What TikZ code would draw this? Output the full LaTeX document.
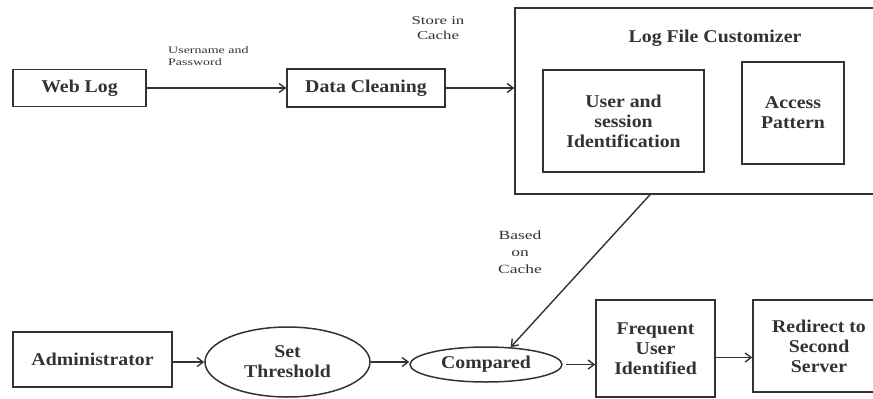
\documentclass[tikz,border=0pt]{standalone}
\usepackage{fontspec}
\setmainfont{Liberation Serif}
\newfontfamily\bigfont{Liberation Serif}[FakeStretch=1.1]
\newfontfamily\lblfont{Liberation Serif}[FakeStretch=1.4]
\usetikzlibrary{shapes.geometric,arrows.meta}
\definecolor{ink}{HTML}{333333}
\tikzset{
  box/.style={draw=ink, line width=1.5pt, rectangle, inner sep=0pt, align=center,
    text=ink, font=\bigfont\bfseries\fontsize{18}{20}\selectfont},
  oval/.style={box, ellipse},
  lbl/.style={text=ink, inner sep=0pt, align=center},
  conn/.style={draw=ink, line width=1.4pt, -{Straight Barb[length=6pt,width=9pt,line width=1.4pt]}},
}
\begin{document}
\begin{tikzpicture}[x=1pt,y=-1pt]
\useasboundingbox (0,0) rectangle (873,399);
% top row
\node[box, minimum width=133pt, minimum height=37pt] (web) at (79.5,88) {Web Log};
\node[box, minimum width=158pt, minimum height=38pt] (clean) at (366,88) {Data Cleaning};
\node[box, minimum width=370pt, minimum height=186pt] (lfc) at (700,101) {};
\node[lbl, font=\bigfont\bfseries\fontsize{18}{20}\selectfont] (lfct) at (715,38) {Log File Customizer};
\node[box, minimum width=161pt, minimum height=102pt] (usi) at (623.5,121) {User and\\session\\Identification};
\node[box, minimum width=102pt, minimum height=102pt] (ap) at (793,113) {Access\\Pattern};
% bottom row
\node[box, minimum width=159pt, minimum height=55pt] (admin) at (92.5,359.5) {Administrator};
\node[oval, minimum width=165pt, minimum height=70pt] (thr) at (287.5,362) {Set\\Threshold};
\node[oval, minimum width=152pt, minimum height=35pt] (cmp) at (486,364.5) {Compared};
\node[box, minimum width=119pt, minimum height=97pt] (fui) at (655.5,348.5) {Frequent\\User\\Identified};
\node[box, minimum width=132pt, minimum height=92pt] (red) at (819,346) {Redirect to\\Second\\Server};
% labels
\node[lbl, anchor=north west, align=left, font=\lblfont\fontsize{10}{12}\selectfont] (l1) at (168,46) {Username and\\Password};
\node[lbl, font=\lblfont\fontsize{12}{15}\selectfont] (l2) at (438,28) {Store in\\Cache};
\node[lbl, font=\lblfont\fontsize{12.5}{17}\selectfont] (l3) at (520,252) {Based\\on\\Cache};
% connectors
\draw[conn] (web.east) -- (clean.west);
\draw[conn] (clean.east) -- (clean.east -| lfc.west);
\draw[conn] ([xshift=-50pt]lfc.south) -- (cmp.35);
\draw[conn] (thr.west -| admin.east) -- (thr.west);
\draw[conn] (thr.east) -- (thr.east -| cmp.west);
\draw[conn] ([xshift=3pt]cmp.east) -- (cmp.east -| fui.west);
\draw[conn] ([yshift=-9pt]fui.east) -- ([yshift=-9pt]fui.east -| red.west);
\end{tikzpicture}
\end{document}
